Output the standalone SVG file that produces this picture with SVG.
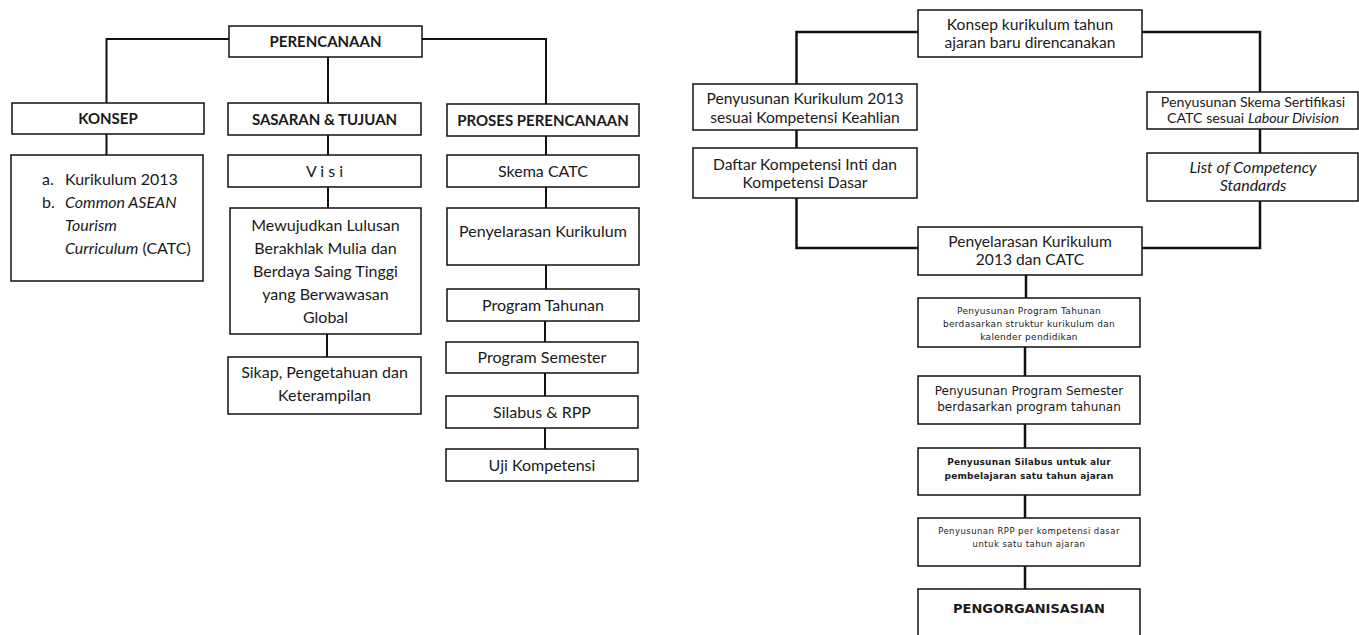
<svg xmlns="http://www.w3.org/2000/svg" width="1359" height="635" viewBox="0 0 1359 635">
<style>
.box{fill:#fff;stroke:#111;stroke-width:1.5}
.ln{fill:none;stroke:#111;stroke-width:2}
.lnr{fill:none;stroke:#111;stroke-width:2.5}
text{font-family:Lato,"Open Sans","Liberation Sans",sans-serif;fill:#1a1a1a;text-anchor:middle}
.t{font-size:16px}
.tb{font-size:15px;font-weight:bold}
.r{font-size:15.6px}
.rs{font-size:14.2px}
.ri{font-size:16px;font-style:italic}
.d{font-family:"DejaVu Sans","Liberation Sans",sans-serif}
.d9{font-size:9px;letter-spacing:0.3px}
.d12{font-size:12px}
.d9b{font-size:9px;font-weight:bold;letter-spacing:0.2px}
.d85{font-size:8.5px;letter-spacing:0.45px}
.d13b{font-size:13px;font-weight:bold}
.l{text-anchor:start}
</style>
<g id="connectors">
<path class="ln" d="M106.5 103V39H229M422 39H546V104M328 57V103"/>
<path class="ln" d="M106.5 134V155M328 135V155M546 136V155"/>
<path class="ln" d="M328 187V208M327 334V357"/>
<path class="ln" d="M546 187V208M546 265V289M545 321V342M545 373V396M545 428V449"/>
<path class="lnr" d="M796.5 84V32H918M1142 32H1260V92"/>
<path class="lnr" d="M796.5 130V148M1260 129V153"/>
<path class="lnr" d="M796.5 198V248H918M1260 201V248H1142"/>
<path class="lnr" d="M1026 275V298M1025 347V376M1025 424V448M1025 495V518M1025 566V589"/>
</g>
<g id="perencanaan"><rect class="box" x="229" y="26" width="193" height="31"/><text class="tb" x="325.5" y="47">PERENCANAAN</text></g>
<g id="konsep"><rect class="box" x="12" y="103" width="192" height="31"/><text class="tb" x="108" y="124">KONSEP</text></g>
<g id="sasaran"><rect class="box" x="228" y="103" width="193" height="32"/><text class="tb" x="324.5" y="125">SASARAN &amp; TUJUAN</text></g>
<g id="proses"><rect class="box" x="447" y="104" width="192" height="32"/><text class="tb" x="543" y="126">PROSES PERENCANAAN</text></g>
<g id="konsep-isi"><rect class="box" x="11" y="155" width="192" height="126"/>
<text class="t l" x="42" y="185">a.</text><text class="t l" x="65" y="185">Kurikulum 2013</text>
<text class="t l" x="42" y="208">b.</text><text class="t l" x="65" y="208" font-style="italic">Common ASEAN</text>
<text class="t l" x="65" y="231" font-style="italic">Tourism</text>
<text class="t l" x="65" y="254"><tspan font-style="italic">Curriculum</tspan> (CATC)</text></g>
<g id="visi"><rect class="box" x="228" y="155" width="193" height="32"/><text class="t" x="324.5" y="177">V i s i</text></g>
<g id="mewujudkan"><rect class="box" x="230" y="208" width="191" height="126"/>
<text class="t" x="325.5" y="231">Mewujudkan Lulusan</text>
<text class="t" x="325.5" y="254">Berakhlak Mulia dan</text>
<text class="t" x="325.5" y="277">Berdaya Saing Tinggi</text>
<text class="t" x="325.5" y="300">yang Berwawasan</text>
<text class="t" x="325.5" y="323">Global</text></g>
<g id="sikap"><rect class="box" x="228" y="357" width="193" height="57"/>
<text class="t" x="324.5" y="378">Sikap, Pengetahuan dan</text>
<text class="t" x="324.5" y="401">Keterampilan</text></g>
<g id="skema"><rect class="box" x="447" y="155" width="192" height="32"/><text class="t" x="543" y="177">Skema CATC</text></g>
<g id="penyelarasan"><rect class="box" x="447" y="208" width="192" height="57"/><text class="t" x="543" y="237">Penyelarasan Kurikulum</text></g>
<g id="prog-tahunan"><rect class="box" x="447" y="289" width="192" height="32"/><text class="t" x="543" y="311">Program Tahunan</text></g>
<g id="prog-semester"><rect class="box" x="446" y="342" width="192" height="31"/><text class="t" x="542" y="363">Program Semester</text></g>
<g id="silabus"><rect class="box" x="446" y="396" width="192" height="32"/><text class="t" x="542" y="418">Silabus &amp; RPP</text></g>
<g id="uji"><rect class="box" x="446" y="449" width="192" height="32"/><text class="t" x="542" y="471">Uji Kompetensi</text></g>

<g id="r-konsep"><rect class="box" x="918" y="10" width="224" height="47"/>
<text class="r" x="1030" y="30">Konsep kurikulum tahun</text>
<text class="r" x="1030" y="48">ajaran baru direncanakan</text></g>
<g id="r-kurikulum"><rect class="box" x="693" y="84" width="224" height="46"/>
<text class="r" x="805" y="104">Penyusunan Kurikulum 2013</text>
<text class="r" x="805" y="123">sesuai Kompetensi Keahlian</text></g>
<g id="r-skema"><rect class="box" x="1147" y="92" width="211" height="37"/>
<text class="rs" x="1253" y="107">Penyusunan Skema Sertifikasi</text>
<text class="rs" x="1253" y="123">CATC sesuai <tspan font-style="italic">Labour Division</tspan></text></g>
<g id="r-daftar"><rect class="box" x="693" y="148" width="224" height="50"/>
<text class="r" x="805" y="170">Daftar Kompetensi Inti dan</text>
<text class="r" x="805" y="188">Kompetensi Dasar</text></g>
<g id="r-list"><rect class="box" x="1147" y="153" width="211" height="48"/>
<text class="ri" x="1253" y="173">List of Competency</text>
<text class="ri" x="1253" y="191">Standards</text></g>
<g id="r-penyelarasan"><rect class="box" x="918" y="227" width="224" height="48"/>
<text class="r" x="1030" y="247">Penyelarasan Kurikulum</text>
<text class="r" x="1030" y="265">2013 dan CATC</text></g>
<g id="r-tahunan"><rect class="box" x="918" y="298" width="222" height="49"/>
<text class="d d9" x="1029" y="314">Penyusunan Program Tahunan</text>
<text class="d d9" x="1029" y="327">berdasarkan struktur kurikulum dan</text>
<text class="d d9" x="1029" y="340">kalender pendidikan</text></g>
<g id="r-semester"><rect class="box" x="918" y="376" width="222" height="48"/>
<text class="d d12" x="1029" y="395">Penyusunan Program Semester</text>
<text class="d d12" x="1029" y="411">berdasarkan program tahunan</text></g>
<g id="r-silabus"><rect class="box" x="918" y="448" width="222" height="47"/>
<text class="d d9b" x="1029" y="465">Penyusunan Silabus untuk alur</text>
<text class="d d9b" x="1029" y="479">pembelajaran satu tahun ajaran</text></g>
<g id="r-rpp"><rect class="box" x="918" y="518" width="222" height="48"/>
<text class="d d85" x="1029" y="534">Penyusunan RPP per kompetensi dasar</text>
<text class="d d85" x="1029" y="547">untuk satu tahun ajaran</text></g>
<g id="r-pengorganisasian"><rect class="box" x="918" y="589" width="222" height="60"/>
<text class="d d13b" x="1029" y="613">PENGORGANISASIAN</text></g>
</svg>
